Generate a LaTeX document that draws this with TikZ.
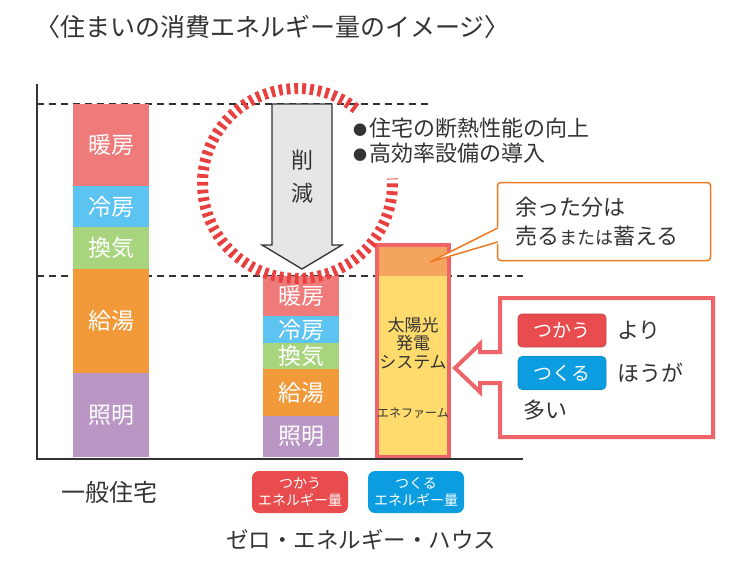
\documentclass[tikz,border=0pt]{standalone}
\usepackage{fontspec}
\setmainfont{Noto Sans CJK JP}
\newfontfamily\jp{Noto Sans CJK JP}
\newcommand\fsz[2]{\fontsize{#1pt}{#2pt}\selectfont}
\newcommand\smallbul{\makebox[16pt][l]{\raisebox{1pt}{\fsz{14}{29}●}}}
\definecolor{ink}{HTML}{333333}
\definecolor{heat}{HTML}{EF7A7A}
\definecolor{cool}{HTML}{5DC3F0}
\definecolor{vent}{HTML}{A8D47E}
\definecolor{water}{HTML}{F29A3A}
\definecolor{light}{HTML}{B996C4}
\definecolor{yel}{HTML}{FFDB6E}
\definecolor{orng}{HTML}{F5A45E}
\definecolor{redb}{HTML}{EE6468}
\definecolor{tagred}{HTML}{E84C4E}
\definecolor{tagblue}{HTML}{0B9DE0}
\definecolor{calor}{HTML}{EE7A22}
\definecolor{circred}{HTML}{E8403F}
\definecolor{arrgray}{HTML}{E6E6E6}
\begin{document}
\begin{tikzpicture}[x=1pt,y=-1pt,
  every node/.style={font=\jp, text=ink},
  seg/.style={rectangle, inner sep=0pt, minimum width=76pt, text=white, font=\jp\fsz{23}{26}},
  dashline/.style={draw=ink, line width=1.5pt, dash pattern=on 7pt off 5pt},
  axis/.style={draw=ink, line width=1.5pt},
  btag/.style={rectangle, rounded corners=7pt, inner sep=0pt, minimum width=96pt, minimum height=42pt, text=white, align=center, font=\jp\fsz{14}{17}},
  ptag/.style={rectangle, rounded corners=4pt, inner sep=0pt, minimum width=88pt, minimum height=33pt, text=white, font=\jp\fsz{19}{22}},
  txt/.style={inner sep=0pt, font=\jp\fsz{22}{29}},
  circ/.style={draw=circred, line width=11pt, dash pattern=on 3.8pt off 4pt}
]
\useasboundingbox (0,0) rectangle (750,560);
% title
\node[inner sep=0pt, font=\jp\fsz{25}{29}] (title) at (272.5,27) {〈住まいの消費エネルギー量のイメージ〉};
% dashed reference lines
\coordinate (d1a) at (37,104); \coordinate (d1b) at (430,104);
\coordinate (d2a) at (37,276); \coordinate (d2b) at (523,276);
\draw[dashline] (d1a) -- (d1b);
\draw[dashline] (d2a) -- (d2b);
% left bar
\node[seg, fill=heat,  minimum height=82pt]  (l1) at (111,145)   {暖房};
\node[seg, fill=cool,  minimum height=41pt]  (l2) at (111,206.5) {冷房};
\node[seg, fill=vent,  minimum height=42pt]  (l3) at (111,248)   {換気};
\node[seg, fill=water, minimum height=104pt] (l4) at (111,321)   {給湯};
\node[seg, fill=light, minimum height=84pt]  (l5) at (111,415)   {照明};
% middle bar
\node[seg, fill=heat,  minimum height=40pt] (m1) at (301,296)   {暖房};
\node[seg, fill=cool,  minimum height=27pt] (m2) at (301,329.5) {冷房};
\node[seg, fill=vent,  minimum height=26pt] (m3) at (301,356)   {換気};
\node[seg, fill=water, minimum height=47pt] (m4) at (301,392.5) {給湯};
\node[seg, fill=light, minimum height=41pt] (m5) at (301,436.5) {照明};
% right bar
\node[rectangle, inner sep=0pt, fill=yel, minimum width=72pt, minimum height=212pt] (rb) at (413,351) {};
\node[rectangle, inner sep=0pt, fill=orng, minimum width=72pt, minimum height=31pt] (rbtop) at (413,260.5) {};
\draw[draw=redb, line width=4pt] (rb.north west) rectangle (rb.south east);
\node[inner sep=0pt, align=center, font=\jp\fsz{17}{18.5}] (rbt) at (413,343) {太陽光\\発電\\システム};
\node[inner sep=0pt, font=\jp\fsz{12}{13}] (rbe) at (413,413) {エネファーム};
% axes
\coordinate (ax0) at (37,84); \coordinate (ax1) at (37,459); \coordinate (ax2) at (523,459);
\draw[axis] (ax0) -- (ax1) -- (ax2);
% reduction arrow
\draw[draw=ink, line width=1.3pt, fill=arrgray, line join=miter]
  (272,104) -- (332,104) -- (332,245) -- (342,245) -- (302,269) -- (262,245) -- (272,245) -- cycle;
\node[inner sep=0pt, font=\jp\fsz{22}{26}] (sak) at (302,160) {削};
\node[inner sep=0pt, font=\jp\fsz{22}{26}] (gen) at (302,193) {減};
% dashed red circle
\draw[circ] ([shift={(52:95pt)}]297.5,183.5) arc[start angle=52, end angle=363, radius=95pt];
% bullets
\node[txt, anchor=west] (b1) at (353,128) {\smallbul 住宅の断熱性能の向上};
\node[txt, anchor=west] (b2) at (353,153) {\smallbul 高効率設備の導入};
% callout
\node[rectangle, draw=calor, line width=1.5pt, fill=white, rounded corners=3pt, minimum width=213pt, minimum height=78pt, inner sep=0pt] (co) at (604,221.5) {};
\coordinate (tip) at (430,262);
\coordinate (ta) at (497.75,228);
\coordinate (tb) at (497.75,242);
\fill[white] (tip) -- (499.5,226.5) -- (499.5,243.5) -- cycle;
\draw[calor, line width=1.5pt, line join=miter] (ta) -- (tip) -- (tb);
\node[txt, anchor=west, align=left] (cot) at (515,222) {余った分は\\売る{\fsz{18}{29}または}蓄える};
% pink box with arrow
\draw[draw=redb, line width=4pt, fill=white, line join=miter]
  (500,298) -- (713,298) -- (713,437) -- (500,437) -- (500,383) -- (480,383) -- (480,392)
  -- (455,368) -- (480,344) -- (480,352) -- (500,352) -- cycle;
\node[ptag, fill=tagred, draw=tagred!85!black, line width=0.6pt] (pu) at (562,330.5) {つかう};
\node[ptag, fill=tagblue, draw=tagblue!90!black, line width=0.6pt] (pm) at (562,373) {つくる};
\node[txt, anchor=west] (yori) at (617,330.5) {より};
\node[txt, anchor=west] (hou) at (617,373) {ほうが};
\node[txt, anchor=west] (ooi) at (523,410) {多い};
% bottom labels
\node[inner sep=0pt, font=\jp\fsz{24}{28}] (ippan) at (109,492) {一般住宅};
\node[btag, fill=tagred] (tu) at (300,492) {つかう\\エネルギー量};
\node[btag, fill=tagblue] (tm) at (416,492) {つくる\\エネルギー量};
\node[inner sep=0pt, font=\jp\fsz{22.5}{26}] (zeh) at (361,540) {ゼロ・エネルギー・ハウス};
\end{tikzpicture}
\end{document}
